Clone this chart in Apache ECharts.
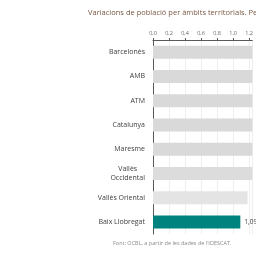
<!DOCTYPE html>
<html>
<head>
<meta charset="utf-8">
<script src="https://cdn.jsdelivr.net/npm/echarts@6/dist/echarts.min.js"></script>
<style>
  html, body { margin: 0; padding: 0; background: #fff; }
  #chart { width: 256px; height: 256px; }
</style>
</head>
<body>
<div id="chart"></div>
<script>
// categories, top to bottom
const categories = ['Barcelonès', 'AMB', 'ATM', 'Catalunya', 'Maresme', 'Vallès\nOccidental', 'Vallès Oriental', 'Baix Llobregat']
// values (grey bars run past the visible edge)
const values = [1.55, 1.6, 1.6, 1.65, 1.5, 1.45, 1.18, 1.09]
const barColors = ['#d9d9d9', '#d9d9d9', '#d9d9d9', '#d9d9d9', '#d9d9d9', '#dcdcdc', '#e4e4e4', '#00827e']
const highlight = 'Baix Llobregat'

const font = '"Open Sans", sans-serif'
const fmt = v => v.toFixed(1).replace('.', ',')

const chart = echarts.init(document.getElementById('chart'))
chart.setOption({
  animation: false,
  textStyle: { fontFamily: font },
  title: {
    text: 'Variacions de població per àmbits territorials. Període 2011-2021',
    left: 83, top: 4,
    textStyle: { fontSize: 7.5, fontWeight: 'normal', color: '#7a5843', fontFamily: font }
  },
  // the picture is cut at the right edge, so the axis stops there
  grid: { left: 153, top: 40, right: 0, height: 194 },
  xAxis: {
    type: 'value',
    position: 'top',
    min: 0, max: 1.24, interval: 0.2,
    axisLine: { show: true, lineStyle: { color: '#595959', width: 1 } },
    axisTick: { show: true, length: 2, lineStyle: { color: '#595959' } },
    axisLabel: { fontSize: 5.5, color: '#666', margin: 4, formatter: fmt, showMaxLabel: false },
    splitLine: { show: true, lineStyle: { color: '#eeeeee', width: 1 } }
  },
  yAxis: {
    type: 'category',
    inverse: true,
    data: categories,
    axisLine: { lineStyle: { color: '#595959', width: 1 } },
    axisTick: { length: 3, lineStyle: { color: '#595959' } },
    axisLabel: {
      fontSize: 7, color: '#404040', margin: 8, lineHeight: 9,
      formatter: v => v.indexOf('\n') >= 0 ? v.split('\n').map(s => '{c|' + s + '}').join('\n') : v,
      rich: { c: { align: 'center', fontSize: 7, color: '#404040', lineHeight: 9, fontFamily: font } }
    }
  },
  series: [{
    type: 'bar',
    barWidth: 13,
    data: values.map((v, i) => ({
      value: v,
      itemStyle: { color: barColors[i] },
      label: categories[i] === highlight ? {
        show: true, position: 'right', distance: 4, fontSize: 6.5, color: '#404040',
        formatter: p => p.value.toFixed(2).replace('.', ',')
      } : { show: false }
    }))
  }],
  graphic: [{
    type: 'text', left: 113, top: 240,
    style: { text: "Font: OCBL, a partir de les dades de l'IDESCAT.", fontSize: 5.5, fill: '#8a8a8a', fontFamily: font }
  }]
})
</script>
</body>
</html>
